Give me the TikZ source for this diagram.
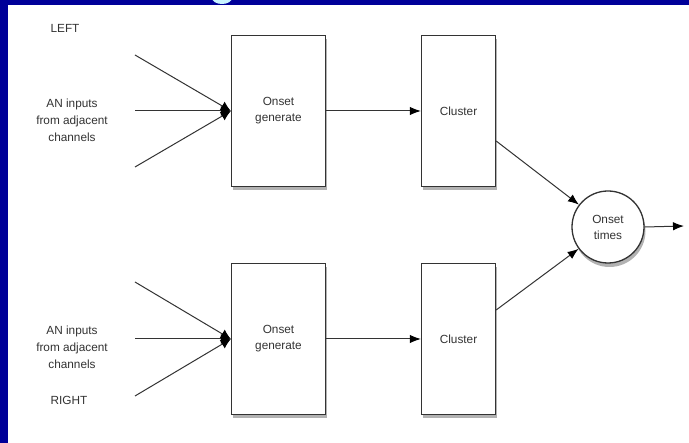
\documentclass[tikz,border=0pt]{standalone}
\usepackage{fontspec}
\setmainfont{Liberation Sans}
\usetikzlibrary{arrows.meta,shadows,calc}
\definecolor{slideblue}{HTML}{000099}
\definecolor{ink}{HTML}{333333}
\definecolor{edgegray}{HTML}{333333}
\definecolor{titlecyan}{HTML}{C8F4FF}
\begin{document}
\begin{tikzpicture}[x=1pt,y=-1pt,
  lbl/.style={text=ink,font=\fontsize{11.8}{17}\selectfont,align=center,inner sep=0pt},
  shad/.style={drop shadow={shadow xshift=1.5pt,shadow yshift=-4pt,fill=black,opacity=0.3}},
  procbox/.style={draw=edgegray,line width=1.3pt,fill=white,inner sep=0pt,
    text=ink,font=\fontsize{11.8}{16}\selectfont,align=center,shad},
  genbox/.style={procbox,minimum width=94pt,minimum height=151pt},
  clbox/.style={procbox,minimum width=74pt,minimum height=151pt},
  conn/.style={draw=edgegray,line width=1pt,-{Latex[length=11pt,width=8.5pt,color=black]}},
  inline/.style={draw=edgegray,line width=1pt,-{Latex[length=10pt,width=10pt,color=black]}}]
\useasboundingbox (0,0) rectangle (689,443);
\fill[slideblue] (0,0) rectangle (689,443);
\fill[white] (8,5) rectangle (689,443);
\begin{scope}
\clip (0,0) rectangle (689,5);
\fill[titlecyan] (222,-2) ellipse (10pt and 6pt);
\end{scope}

% labels
\node[lbl] (left) at (65,28) {LEFT};
\node[lbl] (right) at (69,400) {RIGHT};
\node[lbl] (an1) at (72,120) {AN inputs\\from adjacent\\channels};
\node[lbl] (an2) at (72,347) {AN inputs\\from adjacent\\channels};

% boxes
\node[genbox] (og1) at (278.5,111) {Onset\\generate};
\node[clbox] (cl1) at (458.5,111) {Cluster};
\node[genbox] (og2) at (278.5,339) {Onset\\generate};
\node[clbox] (cl2) at (458.5,339) {Cluster};
\node[circle,draw=edgegray,line width=1.3pt,fill=white,minimum size=72pt,inner sep=0pt,
  text=ink,font=\fontsize{11.8}{16}\selectfont,align=center,shad] (ot) at (608,227) {Onset\\times};

% input coordinates
\coordinate (i1a) at (135,55);
\coordinate (i1b) at (135,111);
\coordinate (i1c) at (135,167);
\coordinate (i2a) at (135,282);
\coordinate (i2b) at (135,339);
\coordinate (i2c) at (135,396);
\coordinate (out) at (684,226);

% connectors
\draw[inline] (i1a) -- (og1.west);
\draw[inline] (i1b) -- (og1.west);
\draw[inline] (i1c) -- (og1.west);
\draw[inline] (i2a) -- (og2.west);
\draw[inline] (i2b) -- (og2.west);
\draw[inline] (i2c) -- (og2.west);
\draw[conn] (og1.east) -- (cl1.west);
\draw[conn] (og2.east) -- (cl2.west);
\draw[conn] ($(cl1.east)+(0,30)$) -- (ot);
\draw[conn] ($(cl2.east)+(0,-29)$) -- (ot);
\draw[conn] (ot.east) -- (out);
\end{tikzpicture}
\end{document}
